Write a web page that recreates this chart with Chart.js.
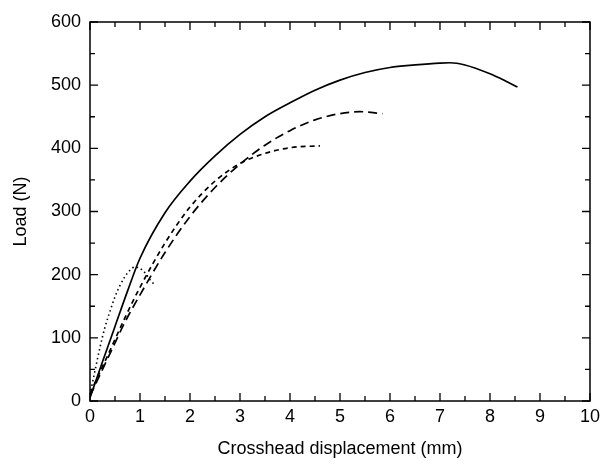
<!DOCTYPE html>
<html>
<head>
<meta charset="utf-8">
<script src="https://cdn.jsdelivr.net/npm/chart.js@4.4.1/dist/chart.umd.min.js"></script>
<style>
  html, body { margin: 0; padding: 0; background: #fff; }
  #wrap { width: 605px; height: 464px; }
</style>
</head>
<body>
<div id="wrap"><canvas id="loadChart" width="605" height="464"></canvas></div>
<script>
// values: displacement (mm) / load (N)
const solidX = [0, 0.25, 0.5, 0.75, 1, 1.5, 2, 2.5, 3, 3.5, 4, 4.5, 5, 5.5, 6, 6.5, 7, 7.2, 7.5, 8, 8.3, 8.55];
const solidY = [5, 62, 118, 174, 226, 298, 348, 388, 422, 450, 472, 492, 508, 520, 528, 532, 535, 535.5, 532, 518, 507, 497];

const longDashX = [0, 0.4, 0.7, 1, 1.5, 2, 2.5, 3, 3.5, 4, 4.5, 5, 5.4, 5.85];
const longDashY = [8, 75, 125, 168, 235, 292, 338, 375, 405, 428, 445, 455, 458, 455];

const shortDashX = [0, 0.4, 0.7, 1, 1.5, 2, 2.5, 3, 3.5, 4, 4.6];
const shortDashY = [12, 80, 132, 180, 250, 307, 348, 376, 392, 401, 404];

const dottedX = [0, 0.1, 0.2, 0.3, 0.4, 0.5, 0.6, 0.7, 0.8, 0.9, 1.0, 1.1, 1.2, 1.28];
const dottedY = [10, 48, 85, 117, 142, 165, 183, 197, 207, 212, 210, 203, 192, 185];

const xTicks = [0, 1, 2, 3, 4, 5, 6, 7, 8, 9, 10];
const yTicks = [0, 100, 200, 300, 400, 500, 600];

function toPoints(xs, ys) {
    return xs.map((x, i) => ({ x: x, y: ys[i] }));
}

function makeSet(xs, ys, dash, width) {
    return {
        data: toPoints(xs, ys),
        borderColor: '#000',
        borderWidth: width,
        borderDash: dash,
        pointRadius: 0,
        fill: false,
        cubicInterpolationMode: 'monotone'
    };
}

// frame on four sides and inward ticks (major + half-step minor)
const frameTicks = {
    id: 'frameTicks',
    afterDraw(chart) {
        const ctx = chart.ctx;
        const xs = chart.scales.x;
        const ys = chart.scales.y;
        const a = chart.chartArea;
        ctx.save();
        ctx.strokeStyle = '#000';
        ctx.lineWidth = 1.5;
        ctx.strokeRect(a.left, a.top, a.right - a.left, a.bottom - a.top);
        ctx.lineWidth = 1.3;
        ctx.beginPath();
        for (let v = 0; v <= 10; v += 0.5) {
            const px = xs.getPixelForValue(v);
            const len = Number.isInteger(v) ? 8 : 5;
            ctx.moveTo(px, a.bottom);
            ctx.lineTo(px, a.bottom - len);
            ctx.moveTo(px, a.top);
            ctx.lineTo(px, a.top + len);
        }
        for (let v = 0; v <= 600; v += 50) {
            const py = ys.getPixelForValue(v);
            const len = v % 100 === 0 ? 8 : 5;
            ctx.moveTo(a.left, py);
            ctx.lineTo(a.left + len, py);
            ctx.moveTo(a.right, py);
            ctx.lineTo(a.right - len, py);
        }
        ctx.stroke();
        ctx.restore();
    }
};

const fontFamily = '"Liberation Sans", Arial, sans-serif';

new Chart(document.getElementById('loadChart').getContext('2d'), {
    type: 'line',
    data: {
        datasets: [
            makeSet(solidX, solidY, [], 1.7),
            makeSet(longDashX, longDashY, [9, 5], 1.7),
            makeSet(shortDashX, shortDashY, [5, 4], 1.7),
            makeSet(dottedX, dottedY, [1.5, 3], 1.6)
        ]
    },
    options: {
        responsive: false,
        animation: false,
        layout: { padding: { top: 22, right: 14, left: 6, bottom: 0 } },
        plugins: {
            legend: { display: false },
            tooltip: { enabled: false }
        },
        scales: {
            x: {
                type: 'linear',
                min: 0,
                max: 10,
                afterFit: (scale) => { scale.height = 63; },
                afterBuildTicks: (scale) => { scale.ticks = xTicks.map(v => ({ value: v })); },
                grid: { display: false, drawTicks: false },
                border: { display: false },
                ticks: {
                    color: '#000',
                    padding: 5,
                    maxRotation: 0,
                    font: { family: fontFamily, size: 18 }
                },
                title: {
                    display: true,
                    text: 'Crosshead displacement (mm)',
                    color: '#000',
                    padding: { top: 1 },
                    font: { family: fontFamily, size: 18 }
                }
            },
            y: {
                type: 'linear',
                min: 0,
                max: 600,
                afterFit: (scale) => { scale.width = 84; },
                afterBuildTicks: (scale) => { scale.ticks = yTicks.map(v => ({ value: v })); },
                grid: { display: false, drawTicks: false },
                border: { display: false },
                ticks: {
                    color: '#000',
                    padding: 9,
                    font: { family: fontFamily, size: 18 }
                },
                title: {
                    display: true,
                    text: 'Load (N)',
                    color: '#000',
                    padding: { bottom: 2 },
                    font: { family: fontFamily, size: 18 }
                }
            }
        }
    },
    plugins: [frameTicks]
});
</script>
</body>
</html>
